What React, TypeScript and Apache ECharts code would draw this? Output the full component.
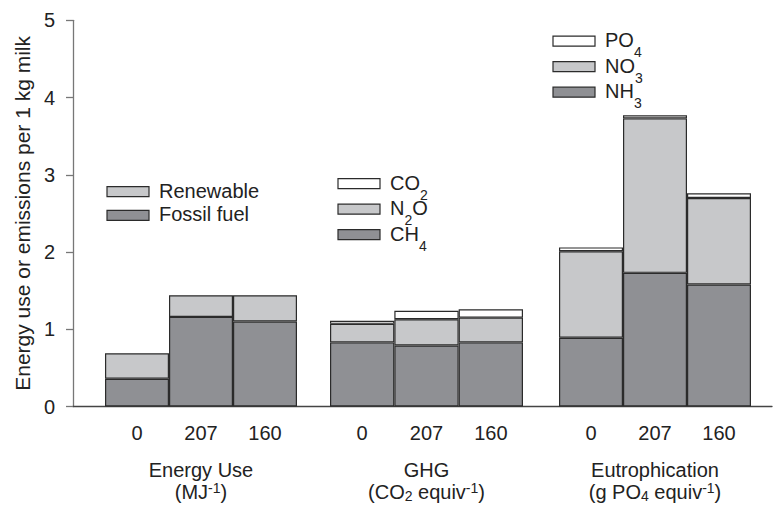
import React, { useEffect, useRef } from "react";
import * as echarts from "echarts";

// ---- data ----
const categories = ["0", "207", "160"];
const fossil = [0.36, 1.16, 1.1];
const renewable = [0.33, 0.28, 0.34];
const ch4 = [0.83, 0.79, 0.83];
const n2o = [0.24, 0.34, 0.32];
const co2 = [0.04, 0.11, 0.11];
const nh3 = [0.89, 1.73, 1.58];
const no3 = [1.12, 2.0, 1.12];
const po4 = [0.05, 0.04, 0.06];
const yTicks = { min: 0, max: 5, interval: 1 };
const groupNames = [
  "{a|Energy Use}\n{b|(MJ}{p|-1}{b|)}",
  "{a|GHG}\n{b|(CO}{s|2}{b| equiv}{p|-1}{b|)}",
  "{a|Eutrophication}\n{b|(g PO}{s|4}{b| equiv}{p|-1}{b|)}",
];
const legendEnergy = ["Renewable", "Fossil fuel"];
const legendGhg = ["CO2", "N2O", "CH4"];
const legendEutro = ["PO4", "NO3", "NH3"];
// label pieces: [text, "n" normal | "s" subscript]
const legendParts: Record<string, [string, string][]> = {
  Renewable: [["Renewable", "n"]],
  "Fossil fuel": [["Fossil fuel", "n"]],
  CO2: [["CO", "n"], ["2", "s"]],
  N2O: [["N", "n"], ["2", "s"], ["O", "n"]],
  CH4: [["CH", "n"], ["4", "s"]],
  PO4: [["PO", "n"], ["4", "s"]],
  NO3: [["NO", "n"], ["3", "s"]],
  NH3: [["NH", "n"], ["3", "s"]],
};

const FONT = "'Liberation Sans', Arial, Helvetica, sans-serif";
const TXT = "#222";
const DARK = "#8f9094";
const LIGHT = "#c7c8ca";
const WHITE = "#ffffff";
const EDGE = "#2b2b2b";
const FS = 20;
const SUB = 14;

const colorOf: Record<string, string> = {
  Renewable: LIGHT,
  "Fossil fuel": DARK,
  CO2: WHITE,
  N2O: LIGHT,
  CH4: DARK,
  PO4: WHITE,
  NO3: LIGHT,
  NH3: DARK,
};

const TOP = 20.3;
const BOTTOM = 98.5;
const grids = [
  { left: 105, width: 192 },
  { left: 330, width: 193 },
  { left: 559, width: 192 },
];
const legendBoxes = [
  { x: 107, y: 191.7, step: 23.7, names: legendEnergy },
  { x: 338, y: 183.7, step: 25.5, names: legendGhg },
  { x: 553, y: 41.2, step: 25.5, names: legendEutro },
];

export default function App() {
  const ref = useRef<HTMLDivElement>(null);
  useEffect(() => {
    if (!ref.current) return;
    const chart = echarts.init(ref.current, null, { renderer: "svg" });

    const ctx = document.createElement("canvas").getContext("2d");
    const measure = (t: string, size: number) => {
      if (!ctx) return t.length * size * 0.6;
      ctx.font = `${size}px ${FONT}`;
      return ctx.measureText(t).width;
    };

    const axisNameRich = {
      a: { fontSize: FS, fontFamily: FONT, color: TXT, lineHeight: 22, verticalAlign: "middle" },
      b: { fontSize: FS, fontFamily: FONT, color: TXT, lineHeight: 22, verticalAlign: "middle" },
      s: { fontSize: SUB, fontFamily: FONT, color: TXT, lineHeight: 14, verticalAlign: "bottom" },
      p: { fontSize: SUB, fontFamily: FONT, color: TXT, lineHeight: 14, verticalAlign: "top" },
    };

    const graphics: any[] = [];
    legendBoxes.forEach((lg) => {
      lg.names.forEach((nm, k) => {
        const cy = lg.y + k * lg.step;
        graphics.push({
          type: "rect",
          shape: { x: lg.x, y: cy - 5, width: 42, height: 10 },
          style: { fill: colorOf[nm], stroke: EDGE, lineWidth: 1.2 },
          silent: true,
        });
        let tx = lg.x + 52;
        legendParts[nm].forEach(([t, kind]) => {
          const isSub = kind === "s";
          const size = isSub ? SUB : FS;
          graphics.push({
            type: "text",
            x: tx,
            y: isSub ? cy + 11 : cy - 1,
            style: {
              text: t,
              align: "left",
              verticalAlign: "middle",
              fontFamily: FONT,
              fontSize: size,
              lineHeight: isSub ? 11 : 17,
              fill: TXT,
            },
            silent: true,
          });
          tx += measure(t, size);
        });
      });
    });

    const mkBar = (name: string, data: number[], gi: number) => ({
      type: "bar",
      name,
      data,
      stack: "g" + gi,
      xAxisIndex: gi + 1,
      yAxisIndex: gi + 1,
      barCategoryGap: "0%",
      itemStyle: { color: colorOf[name], borderColor: EDGE, borderWidth: 1.2 },
      emphasis: { disabled: true },
    });

    const option: any = {
      animation: false,
      backgroundColor: "#fff",
      textStyle: { fontFamily: FONT },
      grid: [
        { left: 73, right: 1, top: TOP, bottom: BOTTOM, outerBoundsMode: "none", containLabel: false },
        ...grids.map((g) => ({
          left: g.left,
          width: g.width,
          top: TOP,
          bottom: BOTTOM,
          outerBoundsMode: "none",
          containLabel: false,
        })),
      ],
      xAxis: [
        {
          type: "value",
          gridIndex: 0,
          min: 0,
          max: 1,
          axisLine: { show: true, lineStyle: { color: "#444", width: 1.3 } },
          axisTick: { show: false },
          axisLabel: { show: false },
          splitLine: { show: false },
        },
        ...grids.map((g, i) => ({
          type: "category",
          gridIndex: i + 1,
          data: categories,
          axisLine: { show: false },
          axisTick: { show: false },
          axisLabel: { fontSize: FS, color: TXT, fontFamily: FONT, margin: 16 },
          name: groupNames[i],
          nameLocation: "middle",
          nameGap: 52,
          nameTextStyle: { rich: axisNameRich },
        })),
      ],
      yAxis: [
        {
          type: "value",
          gridIndex: 0,
          ...yTicks,
          axisLine: { show: true, lineStyle: { color: "#777", width: 1.3 } },
          axisTick: { show: true, inside: false, length: 7, lineStyle: { color: "#777", width: 1.3 } },
          axisLabel: { fontSize: FS, color: TXT, fontFamily: FONT, margin: 18 },
          splitLine: { show: false },
          name: "Energy use or emissions per 1 kg milk",
          nameLocation: "middle",
          nameGap: 40,
          nameTextStyle: { fontSize: 21, color: TXT, fontFamily: FONT },
        },
        ...grids.map((g, i) => ({
          type: "value",
          gridIndex: i + 1,
          ...yTicks,
          show: false,
        })),
      ],
      series: [
        mkBar("Fossil fuel", fossil, 0),
        mkBar("Renewable", renewable, 0),
        mkBar("CH4", ch4, 1),
        mkBar("N2O", n2o, 1),
        mkBar("CO2", co2, 1),
        mkBar("NH3", nh3, 2),
        mkBar("NO3", no3, 2),
        mkBar("PO4", po4, 2),
      ],
      graphic: graphics,
    };
    chart.setOption(option);
    return () => chart.dispose();
  }, []);
  return <div ref={ref} style={{ width: 773, height: 505, position: "absolute", left: 0, top: 0 }} />;
}
